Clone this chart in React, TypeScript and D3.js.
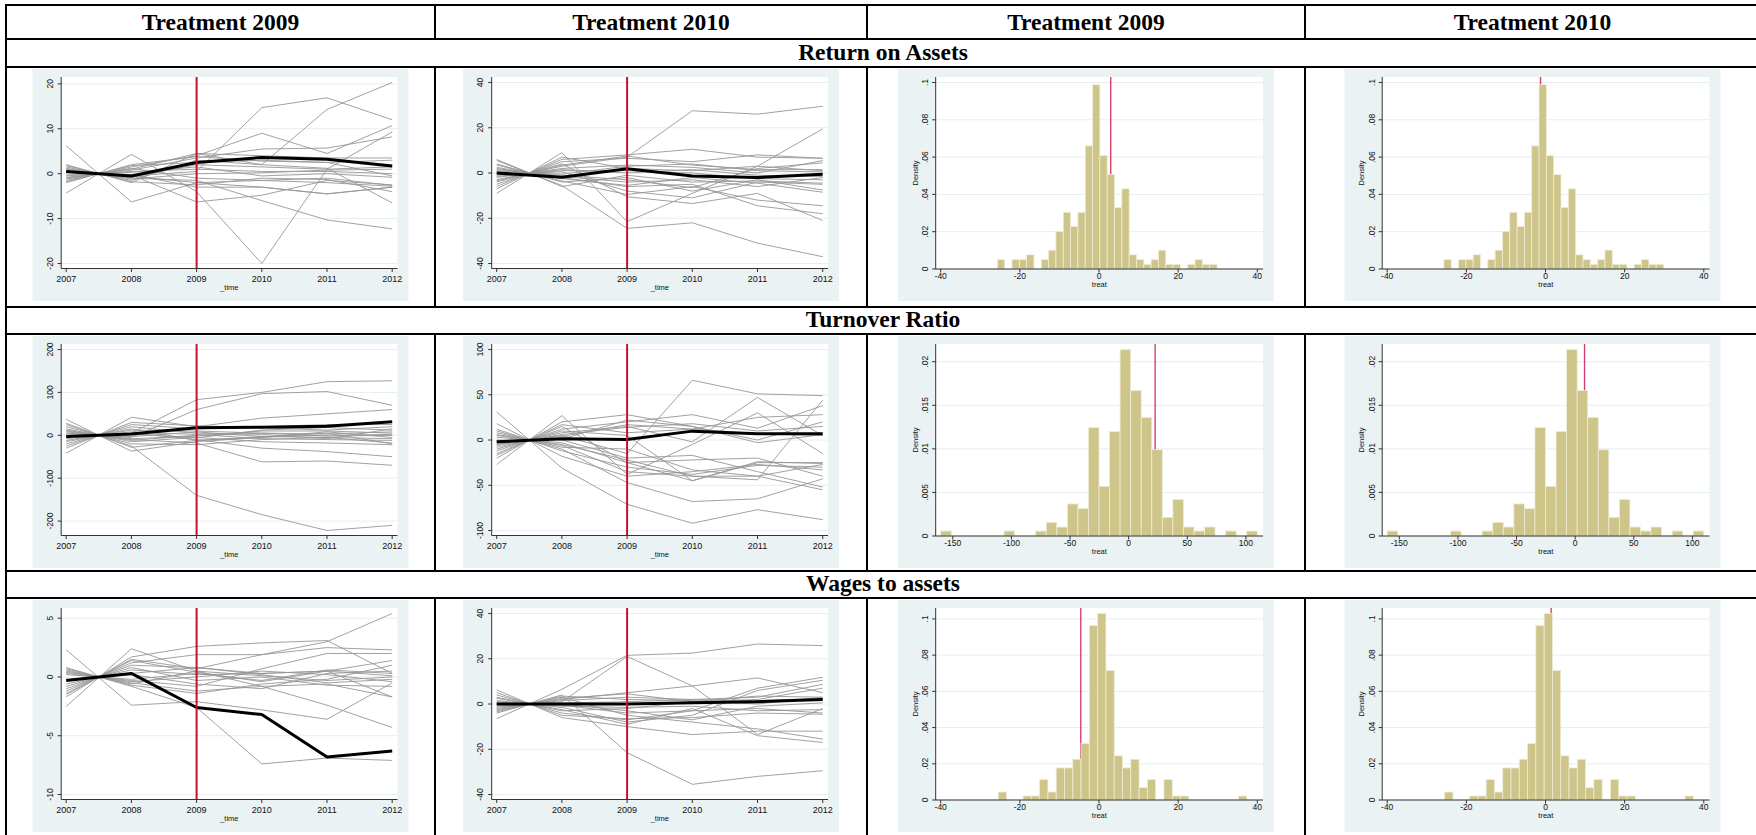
import React from "react";
import * as d3 from "d3";

// ---- data ----
const years = [2007, 2008, 2009, 2010, 2011, 2012];
const treatYear = 2009;
const columnTitles = ["Treatment 2009", "Treatment 2010", "Treatment 2009", "Treatment 2010"];
const sectionTitles = ["Return on Assets", "Turnover Ratio", "Wages to assets"];

// Return on Assets, line panels
const roa09Treated = [0.5, -0.5, 2.5, 3.6, 3.2, 1.7];
const roa09Controls = [
  [6.2, -6.3, -2.0, -3.0, -4.5, -3.0],
  [-4.3, 4.3, -4.0, -20.0, 1.0, 9.3],
  [0.5, -0.5, 0.5, 14.7, 16.9, 12.0],
  [-1.0, 1.0, 4.5, 2.0, 14.3, 20.3],
  [-1.5, 1.5, 4.0, 9.0, 4.5, 10.7],
  [-0.8, 0.8, 3.5, 5.5, 5.7, 8.2],
  [1.0, -1.0, -1.5, -6.0, -10.3, -12.3],
  [1.5, -1.5, 3.0, 2.0, 1.2, -6.5],
  [0.3, -0.3, -6.3, -4.8, -1.5, -2.5],
  [2.0, -2.0, 4.5, 4.0, 3.5, 3.5],
  [-2.0, 2.0, 3.8, 2.8, 2.5, 3.0],
  [0.8, -0.8, 2.0, 1.5, 1.0, 1.5],
  [-1.2, 1.2, -1.0, -1.5, -2.0, -2.8],
  [1.8, -1.8, -2.5, -1.0, -1.3, -4.0],
  [-0.5, 0.5, 1.0, 0.5, 0.5, 0.0],
  [0.2, -0.2, -3.0, -3.0, -4.5, -3.0],
  [-1.8, 1.8, 2.5, 3.0, 2.5, -0.5],
  [0.6, -0.6, -2.0, -1.5, -1.0, -2.6],
  [1.2, -1.2, 0.0, 0.2, 0.8, 1.0],
  [-0.3, 0.3, 1.5, -0.5, 0.0, -0.8],
];
const roa09YTicks = [-20, -10, 0, 10, 20];

const roa10Treated = [0.0, -1.9, 1.9, -1.3, -2.0, -0.5];
const roa10Controls = [
  [-9.0, 9.0, -21.5, -9.0, 3.0, 19.5],
  [5.5, -5.5, -24.5, -22.0, -31.0, -37.0],
  [-3.0, 3.0, 7.0, 27.5, 26.0, 29.5],
  [-6.0, 6.0, 8.0, 10.5, 7.0, 6.5],
  [-4.0, 4.0, -10.5, -13.5, -9.0, -21.0],
  [2.0, -2.0, -6.0, -5.0, -14.5, -18.0],
  [3.5, -3.5, -9.5, -6.0, -12.0, -14.5],
  [-5.0, 5.0, 6.5, 5.0, 8.0, 6.5],
  [1.0, -1.0, -3.0, -6.5, 2.0, 4.5],
  [-2.0, 2.0, 3.5, 2.5, 0.0, 5.5],
  [4.0, -4.0, -2.0, -8.0, -3.0, -7.5],
  [-1.0, 1.0, 1.0, 0.0, -2.5, -3.0],
  [2.5, -2.5, -5.5, -2.0, -4.5, -8.5],
  [-7.0, 7.0, 2.0, 1.0, 3.0, 1.0],
  [0.5, -0.5, 3.0, 4.0, 1.0, 0.5],
  [-0.5, 0.5, -8.0, -11.0, -4.0, -5.0],
  [1.5, -1.5, -4.0, -3.0, -6.0, -2.0],
  [-3.5, 3.5, 7.5, 3.5, 1.5, 1.5],
  [6.0, -6.0, -1.0, -4.0, -3.5, -4.5],
  [-1.5, 1.5, 0.0, 1.5, -1.0, -1.5],
];
const roa10YTicks = [-40, -20, 0, 20, 40];

// Turnover Ratio, line panels
const tr09Treated = [-3, 3, 17.5, 19, 21, 31.5];
const tr09Controls = [
  [-5, 5, 83, 100, 125, 127],
  [5, -5, 60, 97, 102, 70],
  [25, -25, -140, -185, -222, -210],
  [-42, 42, 20, 40, 50, 60],
  [10, -10, -18, -62, -60, -70],
  [-5, 5, -10, -30, -38, -50],
  [37, -37, -15, -5, 5, -20],
  [-30, 30, 22, 18, 12, 20],
  [20, -20, -22, -10, -5, -18],
  [-20, 20, 5, 2, -8, 15],
  [15, -15, -5, -15, -18, -22],
  [-12, 12, 10, 5, 3, 8],
  [8, -8, -2, 10, 10, 5],
  [-8, 8, 2, -8, -10, -12],
  [28, -28, -12, -3, 0, 2],
  [-25, 25, 15, 20, 25, 25],
  [3, -3, 8, -3, -5, -8],
  [-3, 3, -6, 12, 18, 12],
  [12, -12, 0, 5, -2, 0],
  [-15, 15, -12, -5, 8, -5],
];
const tr09YTicks = [-200, -100, 0, 100, 200];

const tr10Treated = [-2, 1.5, 0.5, 9.8, 6.8, 7];
const tr10Controls = [
  [31, -31, -71, -92, -77, -88],
  [-27, 27, -38, -5, 30, -15],
  [-5, 5, -15, 66, 51, 49],
  [10, -10, -47, -68, -65, -43],
  [-12, 12, 20, 28, 13, 38],
  [-8, 8, 15, -2, 47, 5],
  [5, -5, -22, -40, -44, 44],
  [-20, 20, 28, 15, -3, 6],
  [-15, 15, -25, -45, -25, -25],
  [12, -12, -30, -38, -28, -30],
  [-4, 4, 17, 12, 25, 28],
  [6, -6, -35, -40, -40, -55],
  [-10, 10, 5, -45, -24, -26],
  [0, 0, -20, -17, -35, -52],
  [18, -18, -40, -35, -27, -33],
  [-6, 6, 14, 18, 10, 15],
  [3, -3, -25, -22, -20, -40],
  [-17, 17, 8, 12, 7, 5],
  [8, -8, -10, -33, -40, -27],
  [-1, 1, 22, 15, 0, 20],
];
const tr10YTicks = [-100, -50, 0, 50, 100];

// Wages to assets, line panels
const wa09Treated = [-0.3, 0.3, -2.6, -3.2, -6.8, -6.3];
const wa09Controls = [
  [2.3, -2.4, -2.1, -2.8, -3.6, -0.5],
  [-2.5, 2.4, 0.5, -0.8, -0.6, -1.7],
  [0.8, -0.8, -2.6, -7.4, -6.9, -7.1],
  [-1.7, 1.7, 2.6, 2.9, 3.1, 0.3],
  [-1.5, 1.5, 0.7, 1.9, 3.0, 5.4],
  [-1.2, 1.2, 1.9, 1.9, 2.5, 2.3],
  [0.5, -0.5, -1.2, -0.8, -2.4, -4.3],
  [-1.0, 1.0, 0.8, 0.3, 0.5, -1.7],
  [0.3, -0.3, -0.8, 0.7, 2.0, 2.0],
  [-0.6, 0.6, 0.2, 0.3, 0.5, 1.4],
  [0.7, -0.7, -1.4, -0.6, -0.2, 1.0],
  [-0.3, 0.3, 0.8, 0.2, -0.5, -0.2],
  [0.2, -0.2, 0.3, -0.3, 0.6, 0.3],
  [-0.8, 0.8, -0.3, 0.0, -0.7, -0.8],
  [0.4, -0.4, 0.0, 0.5, 0.2, -0.4],
  [-0.2, 0.2, -0.6, -1.0, 0.3, 0.5],
  [0.6, -0.6, 0.5, 0.1, -0.3, 0.0],
  [-1.4, 1.4, 0.4, -0.4, 0.5, 0.1],
];
const wa09YTicks = [-10, -5, 0, 5];

const wa10Treated = [0.0, 0.0, 0.0, 0.5, 1.0, 2.0];
const wa10Controls = [
  [-6.5, 6.5, 21.5, 22.5, 26.5, 25.8],
  [-1.0, 1.0, 21.0, 8.0, -13.5, -2.0],
  [-4.0, 4.0, -21.5, -35.5, -32.0, -29.5],
  [6.2, -6.0, -10.0, -13.5, -12.0, -12.0],
  [-2.0, 2.0, 5.0, 8.0, 11.5, 5.0],
  [4.0, -4.0, -7.0, -3.0, 7.0, 11.8],
  [1.5, -1.5, -8.0, -5.0, 6.0, 10.5],
  [-3.0, 3.0, -5.0, -8.0, -11.0, -15.5],
  [2.5, -2.5, -9.0, -2.0, -14.0, -17.0],
  [-1.5, 1.5, 3.0, 2.0, 3.0, 8.7],
  [3.0, -3.0, -2.0, 1.0, 2.0, 7.0],
  [-3.5, 3.5, 2.0, 1.5, 0.0, 3.0],
  [0.5, -0.5, -4.0, -3.0, -2.0, -4.0],
  [-0.5, 0.5, 1.0, 2.0, 1.5, 2.5],
  [1.0, -1.0, -1.5, -1.0, -3.0, -2.5],
  [5.0, -5.0, -6.5, -6.0, -4.0, -4.5],
  [-2.5, 2.5, 4.5, 1.0, 3.5, 3.0],
  [0.0, 0.0, -3.0, -7.0, -1.0, 0.5],
];
const wa10YTicks = [-40, -20, 0, 20, 40];

// histograms of treat (density per bin)
const roaBinStart = -25.68;
const roaBinWidth = 1.85;
const roaDensity = [
  0.005, 0, 0.005, 0.005, 0.0076, 0, 0.005, 0.0101, 0.0202, 0.0304,
  0.0228, 0.0304, 0.066, 0.0988, 0.0608, 0.0506, 0.033, 0.043, 0.0076, 0.005,
  0.0025, 0.005, 0.0101, 0.0025, 0.0025, 0, 0.0025, 0.005, 0.0025, 0.0025,
];
const roaXTicks = [-40, -20, 0, 20, 40];
const roaDensityTicks = [0, 0.02, 0.04, 0.06, 0.08, 0.1];
const roaMarks = [2.96, -1.26];

const trBinStart = -160.3;
const trBinWidth = 9.0;
const trDensity = [
  0.00057, 0, 0, 0, 0, 0, 0.00057, 0, 0, 0.00057,
  0.00157, 0.00103, 0.00368, 0.00314, 0.01245, 0.0057, 0.012, 0.0214, 0.0167, 0.0136,
  0.0099, 0.00215, 0.0042, 0.00103, 0.00057, 0.00103, 0, 0.00057, 0, 0.00057,
];
const trXTicks = [-150, -100, -50, 0, 50, 100];
const trDensityTicks = [0, 0.005, 0.01, 0.015, 0.02];
const trMarks = [22.6, 8];

const waBinStart = -25.47;
const waBinWidth = 2.094;
const waDensity = [
  0.0044, 0, 0, 0.0022, 0.0022, 0.0113, 0.0044, 0.0177, 0.0177, 0.0225,
  0.0312, 0.0963, 0.103, 0.0716, 0.0244, 0.0177, 0.0225, 0.0068, 0.0113, 0,
  0.0113, 0.0022, 0.0022, 0, 0, 0, 0, 0, 0, 0.0022,
];
const waXTicks = [-40, -20, 0, 20, 40];
const waDensityTicks = [0, 0.02, 0.04, 0.06, 0.08, 0.1];
const waMarks = [-4.6, 1.43];

// ---- styling / layout ----
const BG = "#EAF2F3";
const GRID = "#E6EEF0";
const RED = "#C8102E";
const BAR = "#CEC58A";
const SANS = "'Liberation Sans', Arial, sans-serif";
const SERIF = "'Liberation Serif', 'Times New Roman', serif";
const PW = 376;
const PH = 232;
const colEdges = [6, 435, 867, 1305, 1760];
const rowEdges = [5, 39, 67, 307, 334, 571, 598, 840];

const fmtDensity = (v: number) =>
  v === 0 ? "0" : String(+v.toFixed(3)).replace(/^0\./, ".");

function LinePanel({ left, top, treated, controls, yTicks }: any) {
  const axisX = left + 28.7;
  const axisY = top + 199.5;
  const right = left + 365;
  const plotTop = top + 8;
  const x = d3.scaleLinear().domain([2007, 2012]).range([left + 33.7, left + 359.7]);
  const all = (controls as number[][]).flat().concat(treated, yTicks);
  const y = d3
    .scaleLinear()
    .domain(d3.extent(all) as [number, number])
    .range([top + 194.5, top + 13.5]);
  const line = d3
    .line<number>()
    .x((_, i) => x(years[i]))
    .y((d) => y(d));

  return (
    <g>
      <rect x={left} y={top} width={PW} height={PH} fill={BG} />
      <rect x={axisX} y={plotTop} width={right - axisX} height={axisY - plotTop} fill="#fff" />
      {yTicks.map((t: number) => (
        <line key={"g" + t} x1={axisX} x2={right} y1={y(t)} y2={y(t)} stroke={GRID} strokeWidth={1} />
      ))}
      {controls.map((s: number[], i: number) => (
        <path key={i} d={line(s) || ""} fill="none" stroke="#969696" strokeWidth={0.9} />
      ))}
      <path d={line(treated) || ""} fill="none" stroke="#000" strokeWidth={3} strokeLinejoin="round" />
      <line x1={x(treatYear)} x2={x(treatYear)} y1={plotTop} y2={axisY} stroke={RED} strokeWidth={2} />
      <line x1={axisX} x2={axisX} y1={plotTop} y2={axisY} stroke="#333" strokeWidth={1} />
      <line x1={axisX} x2={right} y1={axisY} y2={axisY} stroke="#333" strokeWidth={1} />
      {yTicks.map((t: number) => (
        <g key={"y" + t}>
          <line x1={axisX - 3.5} x2={axisX} y1={y(t)} y2={y(t)} stroke="#333" />
          <text
            transform={`translate(${left + 17},${y(t)}) rotate(-90)`}
            textAnchor="middle"
            dominantBaseline="central"
            fontSize={8.5}
            fontFamily={SANS}
            fill="#111"
          >
            {t}
          </text>
        </g>
      ))}
      {years.map((yr) => (
        <g key={"x" + yr}>
          <line x1={x(yr)} x2={x(yr)} y1={axisY} y2={axisY + 3.5} stroke="#333" />
          <text x={x(yr)} y={top + 212.5} textAnchor="middle" fontSize={9} fontFamily={SANS} fill="#111">
            {yr}
          </text>
        </g>
      ))}
      <text x={(axisX + right) / 2} y={top + 220.5} textAnchor="middle" fontSize={7.5} fontFamily={SANS} fill="#111">
        _time
      </text>
    </g>
  );
}

function HistPanel({ left, top, binStart, binWidth, density, xTicks, yTicks, mark }: any) {
  const axisX = left + 37.7;
  const axisY = top + 200;
  const right = left + 365;
  const plotTop = top + 8;
  const bins = (density as number[]).map((d, i) => ({
    x0: binStart + i * binWidth,
    x1: binStart + (i + 1) * binWidth,
    d,
  }));
  const xExt = d3.extent([...xTicks, bins[0].x0, bins[bins.length - 1].x1]) as [number, number];
  const x = d3.scaleLinear().domain(xExt).range([left + 42.7, left + 359.3]);
  const yMax = d3.max([...yTicks, ...density]) as number;
  const y = d3.scaleLinear().domain([0, yMax]).range([axisY, top + 13.5]);

  return (
    <g>
      <rect x={left} y={top} width={PW} height={PH} fill={BG} />
      <rect x={axisX} y={plotTop} width={right - axisX} height={axisY - plotTop} fill="#fff" />
      {yTicks.map((t: number) => (
        <line key={"g" + t} x1={axisX} x2={right} y1={y(t)} y2={y(t)} stroke={GRID} strokeWidth={1} />
      ))}
      <line x1={x(mark)} x2={x(mark)} y1={plotTop} y2={axisY} stroke="#D8406A" strokeWidth={1.4} />
      {bins
        .filter((b) => b.d > 0)
        .map((b, i) => (
          <rect
            key={i}
            x={x(b.x0)}
            y={y(b.d)}
            width={x(b.x1) - x(b.x0)}
            height={axisY - y(b.d)}
            fill={BAR}
            stroke="#EEECD6"
            strokeWidth={0.8}
          />
        ))}
      <line x1={axisX} x2={axisX} y1={plotTop} y2={axisY} stroke="#333" strokeWidth={1} />
      <line x1={axisX} x2={right} y1={axisY} y2={axisY} stroke="#333" strokeWidth={1} />
      {yTicks.map((t: number) => (
        <g key={"y" + t}>
          <line x1={axisX - 3.5} x2={axisX} y1={y(t)} y2={y(t)} stroke="#333" />
          <text
            transform={`translate(${left + 27},${y(t)}) rotate(-90)`}
            textAnchor="middle"
            dominantBaseline="central"
            fontSize={8.5}
            fontFamily={SANS}
            fill="#111"
          >
            {fmtDensity(t)}
          </text>
        </g>
      ))}
      <text
        transform={`translate(${left + 17},${(plotTop + axisY) / 2}) rotate(-90)`}
        textAnchor="middle"
        dominantBaseline="central"
        fontSize={7.5}
        fontFamily={SANS}
        fill="#111"
      >
        Density
      </text>
      {xTicks.map((t: number) => (
        <g key={"x" + t}>
          <line x1={x(t)} x2={x(t)} y1={axisY} y2={axisY + 3.5} stroke="#333" />
          <text x={x(t)} y={top + 210} textAnchor="middle" fontSize={8.5} fontFamily={SANS} fill="#111">
            {t}
          </text>
        </g>
      ))}
      <text x={(axisX + right) / 2} y={top + 218} textAnchor="middle" fontSize={7.5} fontFamily={SANS} fill="#111">
        treat
      </text>
    </g>
  );
}

const lineRows = [
  [
    { treated: roa09Treated, controls: roa09Controls, yTicks: roa09YTicks },
    { treated: roa10Treated, controls: roa10Controls, yTicks: roa10YTicks },
  ],
  [
    { treated: tr09Treated, controls: tr09Controls, yTicks: tr09YTicks },
    { treated: tr10Treated, controls: tr10Controls, yTicks: tr10YTicks },
  ],
  [
    { treated: wa09Treated, controls: wa09Controls, yTicks: wa09YTicks },
    { treated: wa10Treated, controls: wa10Controls, yTicks: wa10YTicks },
  ],
];

const histRows = [
  { binStart: roaBinStart, binWidth: roaBinWidth, density: roaDensity, xTicks: roaXTicks, yTicks: roaDensityTicks, marks: roaMarks },
  { binStart: trBinStart, binWidth: trBinWidth, density: trDensity, xTicks: trXTicks, yTicks: trDensityTicks, marks: trMarks },
  { binStart: waBinStart, binWidth: waBinWidth, density: waDensity, xTicks: waXTicks, yTicks: waDensityTicks, marks: waMarks },
];

export default function App() {
  const panelLeft = (c: number) => (colEdges[c] + colEdges[c + 1]) / 2 - PW / 2;
  const tableLeft = colEdges[0];
  const tableRight = colEdges[4];

  return (
    <svg
      width={1756}
      height={835}
      style={{ position: "absolute", left: 0, top: 0, display: "block", background: "#fff" }}
    >
      {/* header titles */}
      {columnTitles.map((t, c) => (
        <text
          key={"h" + c}
          x={(colEdges[c] + colEdges[c + 1]) / 2}
          y={30}
          textAnchor="middle"
          fontFamily={SERIF}
          fontWeight="bold"
          fontSize={23.5}
        >
          {t}
        </text>
      ))}
      {sectionTitles.map((t, r) => (
        <text
          key={"s" + r}
          x={(tableLeft + tableRight) / 2}
          y={rowEdges[1 + 2 * r + 1] - 7}
          textAnchor="middle"
          fontFamily={SERIF}
          fontWeight="bold"
          fontSize={23.5}
        >
          {t}
        </text>
      ))}

      {/* panels */}
      {lineRows.map((row, r) =>
        row.map((p, c) => (
          <LinePanel key={`l${r}${c}`} left={panelLeft(c)} top={rowEdges[2 + 2 * r] + 2} {...p} />
        ))
      )}
      {histRows.map((h, r) =>
        h.marks.map((m, k) => (
          <HistPanel
            key={`h${r}${k}`}
            left={panelLeft(2 + k)}
            top={rowEdges[2 + 2 * r] + 2}
            binStart={h.binStart}
            binWidth={h.binWidth}
            density={h.density}
            xTicks={h.xTicks}
            yTicks={h.yTicks}
            mark={m}
          />
        ))
      )}

      {/* table rules */}
      {rowEdges.map((y, i) => (
        <line key={"r" + i} x1={tableLeft - 1} x2={tableRight + 1} y1={y} y2={y} stroke="#000" strokeWidth={2} />
      ))}
      {[0, 2, 4, 6].map((ri) =>
        colEdges.map((x, ci) => (
          <line
            key={`v${ri}-${ci}`}
            x1={x}
            x2={x}
            y1={rowEdges[ri]}
            y2={rowEdges[ri + 1]}
            stroke="#000"
            strokeWidth={2}
          />
        ))
      )}
      {[1, 3, 5].map((ri) => (
        <line
          key={`o${ri}`}
          x1={tableLeft}
          x2={tableLeft}
          y1={rowEdges[ri]}
          y2={rowEdges[ri + 1]}
          stroke="#000"
          strokeWidth={2}
        />
      ))}
    </svg>
  );
}
